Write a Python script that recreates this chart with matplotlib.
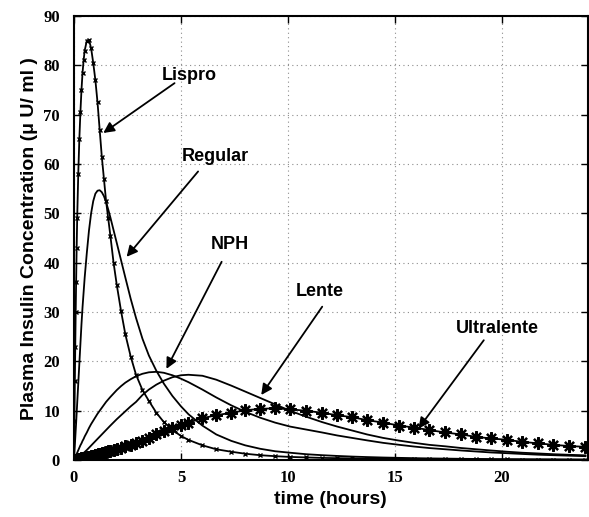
import matplotlib.pyplot as plt

# time points (hours)
t = [0, 0.02, 0.04, 0.06, 0.08, 0.1, 0.125, 0.15, 0.2, 0.25, 0.3, 0.35, 0.4, 0.45, 0.5,
     0.6, 0.7, 0.8, 0.9, 1.0, 1.1, 1.2, 1.3, 1.4, 1.5, 1.6, 1.7, 1.85, 2.0, 2.2, 2.4,
     2.65, 2.9, 3.2, 3.5, 3.85, 4.2, 4.6, 5.0, 5.35, 6.0, 6.65, 7.35, 8.0, 8.7, 9.4,
     10.1, 10.85, 11.6, 12.3, 13.0, 13.7, 14.45, 15.2, 15.9, 16.6, 17.35, 18.1, 18.8,
     19.5, 20.25, 20.95, 21.7, 22.4, 23.15, 23.9]

# plasma insulin concentration (micro U / ml)
lispro = [0, 8, 16, 23, 30, 36, 43, 49, 58, 65, 70.5, 75, 78.5, 81, 83,
          85, 85.2, 83.5, 80.5, 77, 72.5, 67, 61.5, 57, 52.5, 49, 45.5, 40, 35.5, 30.2, 25.5,
          21, 17.3, 14.2, 12, 9.6, 7.7, 6.1, 4.9, 4.1, 3.0, 2.2, 1.7, 1.3, 1.0, 0.8,
          0.65, 0.55, 0.45, 0.4, 0.35, 0.3, 0.27, 0.25, 0.22, 0.2, 0.18, 0.17, 0.15,
          0.14, 0.13, 0.12, 0.11, 0.1, 0.1, 0.09]
regular = [0, 1.5, 3, 4.5, 6, 7.5, 9.5, 11.5, 15.5, 19.5, 23.5, 27.5, 31, 34, 37,
           42, 46.5, 50, 52.5, 54, 54.6, 54.7, 54.3, 53.5, 52.3, 50.8, 49.2, 46.6, 44, 40.5, 37,
           32.7, 28.8, 24.6, 21.2, 18.1, 15.5, 13, 10.9, 9.3, 7.0, 5.2, 3.9, 3.0, 2.3, 1.8,
           1.5, 1.2, 1.0, 0.85, 0.72, 0.62, 0.53, 0.46, 0.4, 0.35, 0.31, 0.27, 0.24,
           0.21, 0.19, 0.17, 0.15, 0.14, 0.12, 0.11]
nph = [0, 0.2, 0.4, 0.6, 0.8, 1.0, 1.25, 1.5, 2.0, 2.5, 3.0, 3.4, 3.9, 4.3, 4.8,
       5.6, 6.5, 7.3, 8.0, 8.7, 9.4, 10.0, 10.6, 11.2, 11.8, 12.3, 12.8, 13.5, 14.2, 15.0, 15.7,
       16.4, 17.0, 17.5, 17.8, 17.9, 17.7, 17.2, 16.5, 15.8, 14.3, 12.7, 11.1, 9.8, 8.6, 7.6,
       6.8, 6.2, 5.6, 5.0, 4.5, 4.0, 3.5, 3.1, 2.75, 2.45, 2.2, 1.95, 1.75,
       1.55, 1.4, 1.25, 1.1, 1.0, 0.9, 0.8]
lente = [0, 0.05, 0.1, 0.15, 0.2, 0.25, 0.33, 0.4, 0.55, 0.7, 0.9, 1.05, 1.25, 1.45, 1.65,
         2.05, 2.5, 2.95, 3.4, 3.85, 4.3, 4.75, 5.2, 5.65, 6.1, 6.55, 7.0, 7.65, 8.3, 9.1, 9.9,
         10.9, 11.8, 13.2, 14.3, 15.3, 16.1, 16.8, 17.2, 17.3, 17.1, 16.3, 15.1, 13.9, 12.6, 11.3,
         10.0, 8.8, 7.7, 6.8, 6.0, 5.2, 4.5, 3.95, 3.5, 3.1, 2.8, 2.45, 2.2,
         1.95, 1.7, 1.5, 1.35, 1.2, 1.08, 0.97]
ultralente = [0, 0.02, 0.04, 0.06, 0.08, 0.1, 0.12, 0.15, 0.2, 0.25, 0.3, 0.35, 0.4, 0.45, 0.5,
              0.6, 0.7, 0.8, 0.92, 1.03, 1.15, 1.27, 1.4, 1.52, 1.65, 1.78, 1.9, 2.1, 2.3, 2.55, 2.8,
              3.15, 3.5, 3.95, 4.45, 5.2, 5.9, 6.6, 7.2, 7.6, 8.5, 9.1, 9.6, 10.1, 10.4, 10.5,
              10.3, 10.0, 9.6, 9.1, 8.7, 8.1, 7.6, 7.0, 6.6, 6.1, 5.6, 5.2, 4.7,
              4.4, 4.1, 3.7, 3.4, 3.1, 2.85, 2.7]

# annotation labels: text, text position, arrow start, arrow tip
labels = ["Lispro", "Regular", "NPH", "Lente", "Ultralente"]
label_pos = [(5.4, 78.0), (6.6, 61.5), (7.3, 43.6), (11.5, 34.1), (19.8, 26.7)]
arrow_from = [(4.7, 76.4), (5.8, 58.5), (6.9, 40.2), (11.6, 31.1), (19.15, 24.3)]
arrow_to = [(1.37, 66.3), (2.46, 41.2), (4.32, 18.5), (8.75, 13.2), (16.1, 6.4)]

fig = plt.figure(figsize=(5.89, 5.17), dpi=100)
ax = fig.add_axes([0.1256, 0.110, 0.872, 0.859])

ax.plot(t, regular, color='k', lw=1.3)
ax.plot(t, nph, color='k', lw=1.3)
ax.plot(t, lente, color='k', lw=1.3)
ax.plot(t, lispro, color='k', lw=1.3, marker='x', markersize=3.5, markeredgewidth=1.0)
ax.plot(t, ultralente, color='k', lw=1.3, marker=(8, 2, 0), markersize=9, markeredgewidth=1.6)

for txt, pos, a0, a1 in zip(labels, label_pos, arrow_from, arrow_to):
    ax.annotate('', xy=a1, xytext=a0,
                arrowprops=dict(arrowstyle='-|>', color='k', lw=1.3,
                                mutation_scale=16, shrinkA=0, shrinkB=0))
    ax.text(pos[0], pos[1], txt, ha='center', va='center', fontsize=13,
            fontweight='bold', family='Liberation Sans')

ax.set_xlim(0, 24)
ax.set_ylim(0, 90)
ax.set_xticks([0, 5, 10, 15, 20])
ax.set_yticks(range(0, 91, 10))
ax.grid(True, linestyle=(0, (1, 3)), color='0.55', lw=0.8)
ax.tick_params(direction='in', top=True, right=True, length=5, width=1)
ax.tick_params(axis='y', pad=10)
ax.tick_params(axis='x', pad=7)
for lab in ax.get_xticklabels() + ax.get_yticklabels():
    lab.set_family('Liberation Serif')
    lab.set_fontweight('bold')
    lab.set_fontsize(12)
for sp in ax.spines.values():
    sp.set_linewidth(1.5)

ax.set_xlabel('time (hours)', fontsize=14, fontweight='bold', family='Liberation Sans')
ax.set_ylabel('Plasma Insulin Concentration (\u03bc U/ ml )', fontsize=14,
              fontweight='bold', family='Liberation Sans')

fig.savefig('out.png', dpi=100)
